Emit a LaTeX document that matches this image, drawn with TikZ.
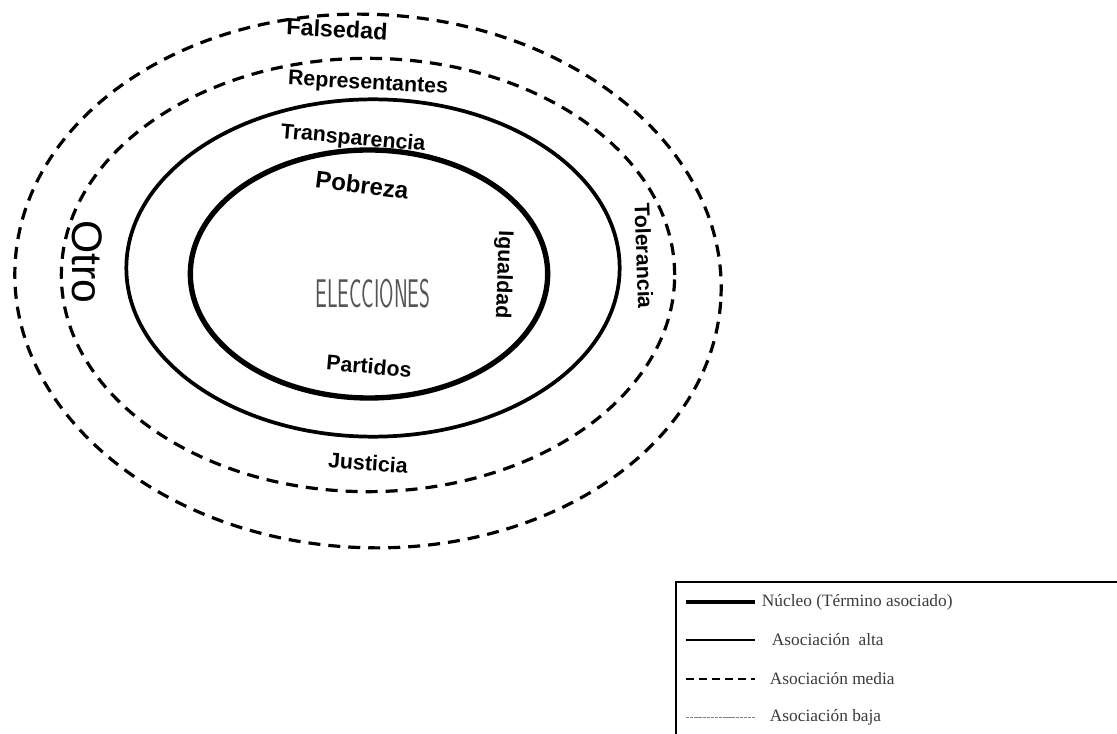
\documentclass[tikz,border=0pt]{standalone}
\usepackage{fontspec}
\setmainfont{Liberation Serif}
\newfontfamily\termfont{Liberation Sans}
\usetikzlibrary{positioning,shapes.geometric}
\definecolor{legendgray}{HTML}{3A3A3A}
\definecolor{coregray}{HTML}{555555}

\begin{document}
\begin{tikzpicture}[x=0.75pt, y=-0.75pt,
  nucleoring/.style={draw, ellipse, line width=4pt, inner sep=0pt},
  altaring/.style={draw, ellipse, line width=2.8pt, inner sep=0pt},
  mediaring/.style={draw, ellipse, line width=2.4pt, dash pattern=on 9pt off 6pt, inner sep=0pt},
  term/.style={font=\termfont\bfseries\fontsize{16pt}{18pt}\selectfont, inner sep=0pt},
  bigterm/.style={font=\termfont\fontsize{32pt}{34pt}\selectfont, inner sep=0pt},
  coreword/.style={font=\sffamily\fontsize{30pt}{32pt}\selectfont, text=coregray, inner sep=0pt},
  legbox/.style={draw, line width=1.5pt},
  legtext/.style={font=\fontsize{13pt}{15pt}\selectfont, text=legendgray, inner sep=0pt},
  keynucleo/.style={line width=2.6pt},
  keyalta/.style={line width=1.8pt},
  keymedia/.style={line width=1.6pt, dash pattern=on 6pt off 3.75pt},
  keybaja/.style={line width=0.6pt, gray, dash pattern=on 2.5pt off 0.6pt}
]
  \useasboundingbox (0,0) rectangle (1117,734);

  % rings
  \node[mediaring, minimum width=530pt, minimum height=400pt, rotate=-2.5] (mediaout) at (368,281) {};
  \node[mediaring, minimum width=460pt, minimum height=325pt] (media) at (368,275) {};
  \node[altaring, minimum width=370pt, minimum height=253pt] (alta) at (373,268) {};
  \node[nucleoring, minimum width=268pt, minimum height=186pt] (nucleo) at (369,274) {};

  \node[coreword] (elecciones) at (373,294) {\scalebox{0.52}[1]{ELECCIONES}};

  % terms
  \node[term, rotate=-3, font=\termfont\bfseries\fontsize{17.5pt}{19pt}\selectfont] (falsedad) at (337,29) {Falsedad};
  \node[term, rotate=-3] (representantes) at (368,84) {Representantes};
  \node[term, rotate=-5] (transparencia) at (353,139) {Transparencia};
  \node[term, rotate=-7, font=\termfont\bfseries\fontsize{18pt}{19pt}\selectfont] (pobreza) at (362,185) {Pobreza};
  \node[term, rotate=-92] (igualdad) at (503,275) {Igualdad};
  \node[term, rotate=-88] (tolerancia) at (644,256) {Tolerancia};
  \node[term, rotate=-5] (partidos) at (369,366) {Partidos};
  \node[term, rotate=-4] (justicia) at (368,463) {Justicia};
  \node[bigterm, rotate=-90] (otro) at (87,262) {Otro};

  % legend
  \draw[legbox] (676,582) rectangle (1130,750);
  \coordinate (k1a) at (686,602);
  \coordinate (k1b) at (755,602);
  \coordinate (k2a) at (686,640);
  \coordinate (k2b) at (755,640);
  \coordinate (k3a) at (686,679);
  \coordinate (k3b) at (755,679);
  \coordinate (k4a) at (686,717);
  \coordinate (k4b) at (755,717);
  \draw[keynucleo] (k1a) -- (k1b);
  \draw[keyalta] (k2a) -- (k2b);
  \draw[keymedia] (k3a) -- (k3b);
  \draw[keybaja] (k4a) -- (k4b);
  \node[legtext, right=5pt of k1b] (knucleo) {Núcleo (Término asociado)};
  \node[legtext, right=12.5pt of k2b] (kalta) {Asociación~ alta};
  \node[legtext, right=11pt of k3b] (kmedia) {Asociación media};
  \node[legtext, right=11pt of k4b] (kbaja) {Asociación baja};
\end{tikzpicture}
\end{document}
